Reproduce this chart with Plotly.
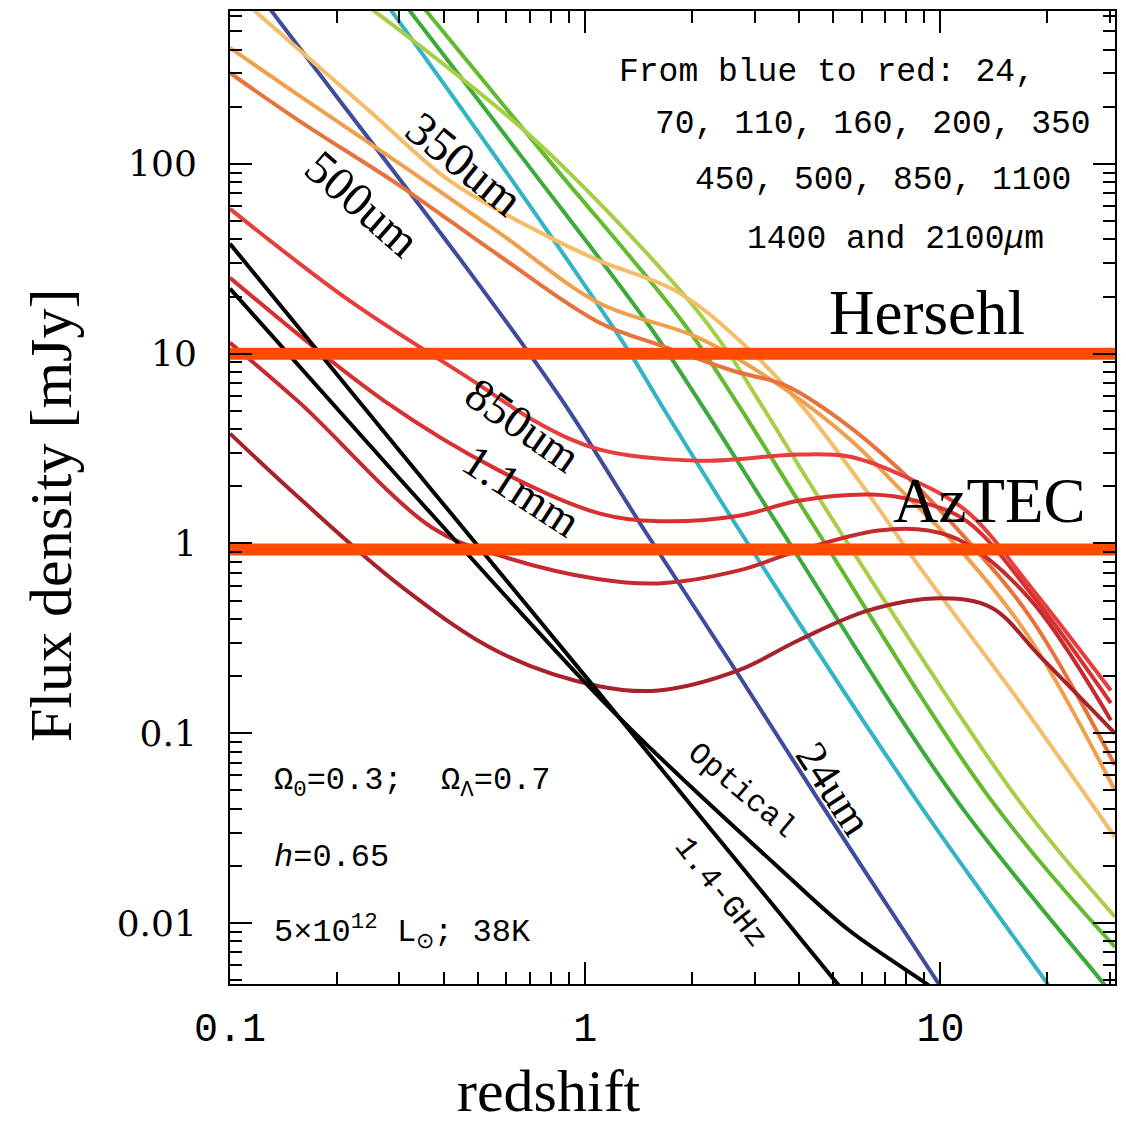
import plotly.graph_objects as go

# ---- model flux density (mJy) versus redshift for each band ----
z_24 = [0.115, 0.131, 0.463, 0.862, 1.47, 2.62, 4.54, 9.86, 10.1]
f_24 = [890, 638, 28.4, 5.66, 1.17, 0.222, 0.0444, 0.00483, 0.0045]

z_70 = [0.25, 0.285, 0.792, 1.34, 1.61, 2.72, 8.57, 19.7, 20.5]
f_70 = [890, 638, 42.9, 10.0, 5.66, 1.17, 0.0444, 0.005, 0.0045]

z_110 = [0.29, 0.321, 0.675, 1.48, 2.09, 3.57, 11.1, 28.7, 29.5]
f_110 = [817, 638, 104, 14.9, 5.66, 1.17, 0.0444, 0.00483, 0.0045]

z_160 = [0.32, 0.357, 0.792, 1.87, 2.65, 4.49, 13.9, 31.0]
f_160 = [820, 638, 104, 14.9, 5.66, 1.17, 0.0444, 0.00748]

z_200 = [0.2, 0.255, 0.727, 1.96, 2.54, 3.08, 5.20, 16.6, 31.0]
f_200 = [886, 638, 132, 19.0, 10.0, 5.66, 1.17, 0.0444, 0.0108]

z_350 = [0.1, 0.1175, 0.247, 0.415, 0.757, 1.094, 1.84, 3.02, 4.18, 5.89, 8.67, 16.6, 31.0]
f_350 = [830, 638, 190, 81.5, 42.9, 30.9, 20.9, 9.76, 5.01, 2.15, 0.766, 0.149, 0.0284]

z_450 = [0.1, 0.157, 0.301, 0.573, 1.094, 2.09, 3.67, 5.62, 7.62, 11.8, 18.0, 31.0]
f_450 = [408, 228, 100, 43.3, 18.5, 12.1, 6.47, 3.48, 1.97, 0.855, 0.309, 0.050]

z_500 = [0.1, 0.157, 0.301, 0.573, 1.094, 1.69, 2.59, 3.67, 5.17, 7.62, 11.8, 18.0, 31.0]
f_500 = [301, 168, 76.6, 32.8, 14.6, 10.8, 8.15, 6.79, 4.55, 2.48, 1.06, 0.403, 0.0679]

z_850 = [0.1, 0.217, 0.482, 0.743, 1.094, 2.09, 3.99, 5.52, 7.62, 11.8, 18.0, 30.2]
f_850 = [57.9, 19.0, 7.21, 4.28, 3.13, 2.73, 2.94, 2.87, 2.33, 1.49, 0.586, 0.168]

z_1100 = [0.1, 0.271, 0.573, 1.094, 1.61, 2.71, 3.99, 6.40, 8.51, 11.8, 18.0, 30.2]
f_1100 = [25.1, 5.66, 2.42, 1.44, 1.31, 1.40, 1.68, 1.81, 1.68, 1.32, 0.545, 0.144]

z_1400 = [0.1, 0.157, 0.371, 0.573, 1.094, 1.61, 2.71, 3.99, 6.70, 9.24, 11.8, 18.0, 30.2]
f_1400 = [11.4, 5.52, 1.21, 0.865, 0.647, 0.616, 0.721, 0.918, 1.17, 1.17, 1.0, 0.501, 0.117]

z_2100 = [0.1, 0.157, 0.301, 0.573, 1.094, 1.61, 2.71, 3.99, 6.28, 10.1, 13.9, 19.2, 31.0]
f_2100 = [3.79, 1.73, 0.601, 0.267, 0.177, 0.168, 0.215, 0.309, 0.444, 0.514, 0.460, 0.251, 0.1]

z_optical = [0.1, 0.300, 1.0, 1.51, 3.57, 5.52, 9.08, 9.55]
f_optical = [22.0, 2.20, 0.185, 0.085, 0.0190, 0.00919, 0.00483, 0.0045]

z_radio = [0.1, 0.300, 1.0, 5.11, 5.27]
f_radio = [37.9, 3.08, 0.2, 0.00483, 0.0045]

# survey detection limits (mJy)
herschel_limit = 10.0
aztec_limit = 0.93
limit_z = [0.1, 31.0]

bands = [
    ("24um", z_24, f_24, "#3F4B9C"),
    ("70um", z_70, f_70, "#33B3C6"),
    ("110um", z_110, f_110, "#3AAA38"),
    ("160um", z_160, f_160, "#62BA2E"),
    ("200um", z_200, f_200, "#A8CE48"),
    ("350um", z_350, f_350, "#F5BC6A"),
    ("450um", z_450, f_450, "#F0A04C"),
    ("500um", z_500, f_500, "#E8723C"),
    ("850um", z_850, f_850, "#E63E3C"),
    ("1100um", z_1100, f_1100, "#D83030"),
    ("1400um", z_1400, f_1400, "#C42A2E"),
    ("2100um", z_2100, f_2100, "#A8222C"),
    ("Optical", z_optical, f_optical, "#000000"),
    ("1.4GHz", z_radio, f_radio, "#000000"),
]

x_major = [0.1, 1, 10]
x_major_text = ["0.1", "1", "10"]
y_major = [0.01, 0.1, 1, 10, 100]
y_major_text = ["0.01", "0.1", "1", "10", "100"]

x_minor = [k * 10.0 ** d for d in (-1, 0, 1) for k in range(2, 10) if k * 10.0 ** d < 32]
y_minor = [k * 10.0 ** d for d in (-3, -2, -1, 0, 1, 2) for k in range(2, 10)]

fig = go.Figure()

for name, z, f, color in bands:
    fig.add_trace(go.Scatter(
        x=z, y=f, mode="lines", name=name,
        line=dict(color=color, width=4, shape="spline", smoothing=1.0),
        showlegend=False, hoverinfo="skip",
    ))

for limit in (herschel_limit, aztec_limit):
    fig.add_trace(go.Scatter(
        x=limit_z, y=[limit, limit], mode="lines",
        line=dict(color="#FF4A00", width=12),
        showlegend=False, hoverinfo="skip",
    ))

mono = "Liberation Mono"
serif = "Liberation Serif"

notes = [
    ("From blue to red: 24,", 0.675, 0.937),
    ("70, 110, 160, 200, 350", 0.726, 0.883),
    ("450, 500, 850, 1100", 0.738, 0.8255),
    ("1400 and 2100<i>μ</i>m", 0.752, 0.765),
]
for text, xp, yp in notes:
    fig.add_annotation(text=text, x=xp, y=yp, xref="paper", yref="paper",
                       showarrow=False, xanchor="center", yanchor="middle",
                       font=dict(family=mono, size=33, color="black"))

params = [
    ("Ω<sub>0</sub>=0.3;  Ω<sub>Λ</sub>=0.7", 0.2074),
    ("<i>h</i>=0.65", 0.1304),
    ("5×10<sup>12</sup> L<sub>⊙</sub>; 38K", 0.0534),
]
for text, yp in params:
    fig.add_annotation(text=text, x=0.0474, y=yp, xref="paper", yref="paper",
                       showarrow=False, xanchor="left", yanchor="middle",
                       font=dict(family=mono, size=32, color="black"))

big_labels = [
    ("Hersehl", 0.788, 0.690),
    ("AzTEC", 0.858, 0.496),
]
for text, xp, yp in big_labels:
    fig.add_annotation(text=text, x=xp, y=yp, xref="paper", yref="paper",
                       showarrow=False, xanchor="center", yanchor="middle",
                       font=dict(family=serif, size=63, color="black"))

curve_labels = [
    ("350um", 0.265, 0.843, 39, serif, 48),
    ("500um", 0.150, 0.802, 41, serif, 48),
    ("850um", 0.3315, 0.574, 35, serif, 46),
    ("1.1mm", 0.329, 0.507, 33, serif, 46),
    ("24um", 0.682, 0.201, 57, serif, 44),
    ("Optical", 0.578, 0.199, 40, mono, 31),
    ("1.4-GHz", 0.5547, 0.0945, 52, mono, 31),
]
for text, xp, yp, ang, fam, size in curve_labels:
    fig.add_annotation(text=text, x=xp, y=yp, xref="paper", yref="paper",
                       showarrow=False, xanchor="center", yanchor="middle",
                       textangle=ang, font=dict(family=fam, size=size, color="black"))

# axis titles
fig.add_annotation(text="Flux density [mJy]", x=-0.2029, y=0.4815, xref="paper", yref="paper",
                   showarrow=False, textangle=-90, xanchor="center", yanchor="middle",
                   font=dict(family=serif, size=60, color="black"))
fig.add_annotation(text="redshift", x=0.3608, y=-0.1095, xref="paper", yref="paper",
                   showarrow=False, xanchor="center", yanchor="middle",
                   font=dict(family=serif, size=60, color="black"))

axis_common = dict(
    type="log", showgrid=False, zeroline=False,
    showline=True, linecolor="black", linewidth=2, mirror="allticks",
    ticks="inside", ticklen=22, tickwidth=2, tickcolor="black",
)

fig.update_xaxes(
    **axis_common, range=[-1, 1.4916],
    tickmode="array", tickvals=x_major, ticktext=x_major_text,
    tickfont=dict(family=mono, size=40, color="black"),
    ticklabelstandoff=7,
    minor=dict(tickmode="array", tickvals=x_minor, ticks="inside",
               ticklen=12, tickwidth=1.5, tickcolor="black", showgrid=False),
)
fig.update_yaxes(
    **axis_common, range=[-2.3211, 2.8053],
    tickmode="array", tickvals=y_major, ticktext=y_major_text,
    tickfont=dict(family="DejaVu Serif", size=36, color="black"),
    ticklabelstandoff=24,
    minor=dict(tickmode="array", tickvals=y_minor, ticks="inside",
               ticklen=12, tickwidth=1.5, tickcolor="black", showgrid=False),
)

fig.update_layout(
    width=1126, height=1124,
    margin=dict(l=230, r=9, t=10, b=140),
    paper_bgcolor="white", plot_bgcolor="white",
    showlegend=False,
)

fig.write_html("out.html")
